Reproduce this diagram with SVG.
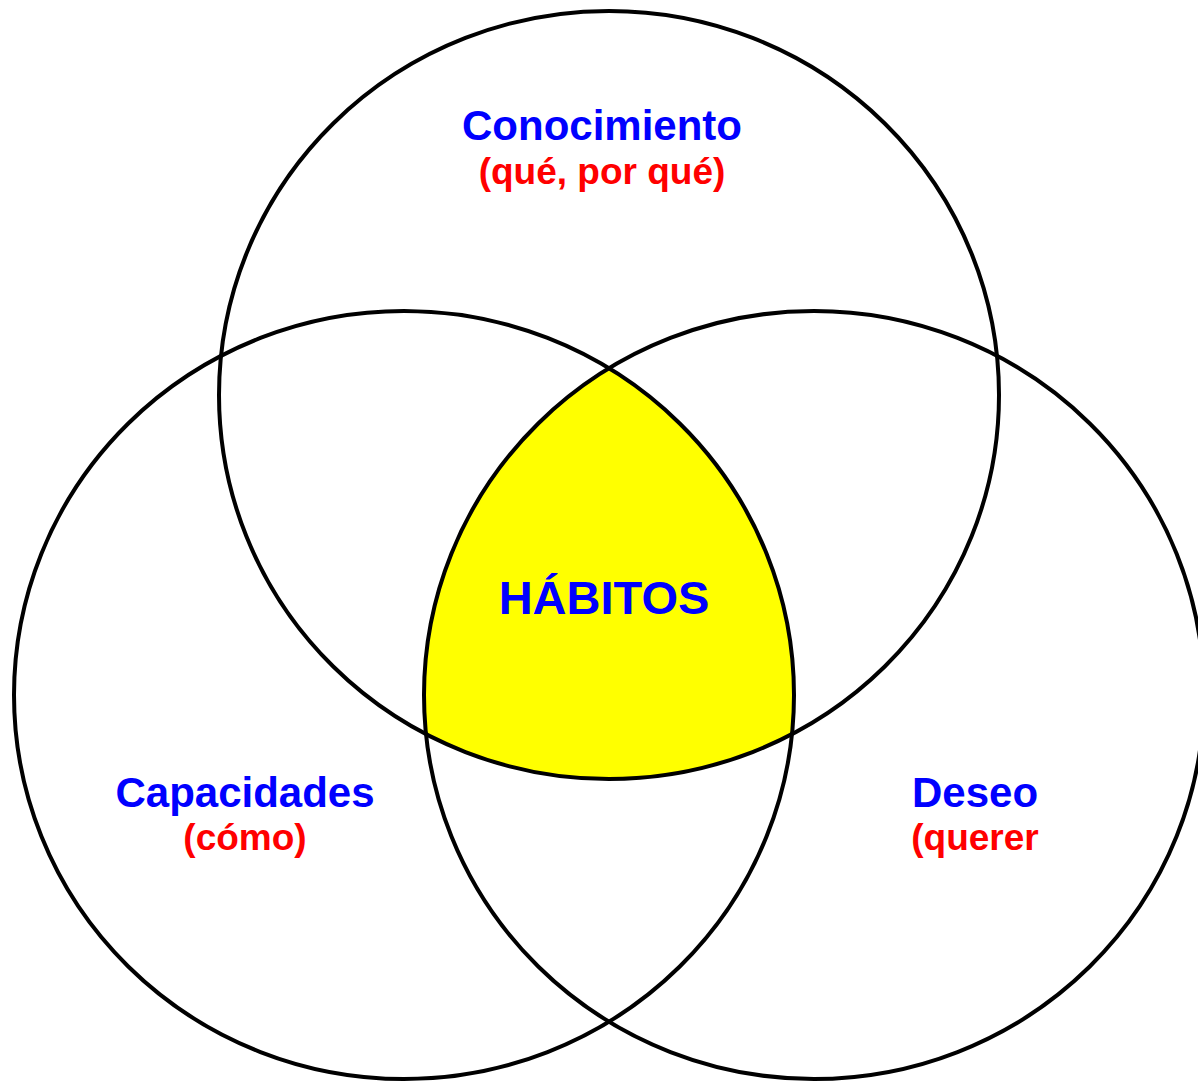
<svg xmlns="http://www.w3.org/2000/svg" width="1198" height="1082" viewBox="0 0 1198 1082">
<style>
.c{fill:none;stroke:#000;stroke-width:4}
.t{font-family:"Liberation Sans",Arial,sans-serif;font-weight:bold;text-anchor:middle}
.b{fill:#0000ff;font-size:42px}
.r{fill:#ff0000;font-size:37px}
</style>
<defs>
<clipPath id="cpTop"><ellipse cx="609" cy="395" rx="390" ry="384"/></clipPath>
<clipPath id="cpRight"><ellipse cx="814" cy="695" rx="390" ry="384"/></clipPath>
</defs>
<rect width="1198" height="1082" fill="#fff"/>
<g id="habitos-fill" clip-path="url(#cpTop)">
<g clip-path="url(#cpRight)">
<ellipse cx="404" cy="695" rx="390" ry="384" fill="#ffff00"/>
</g>
</g>
<g id="connectors"></g>
<g id="conocimiento">
<ellipse class="c" cx="609" cy="395" rx="390" ry="384"/>
<text class="t b" x="602" y="140">Conocimiento</text>
<text class="t r" x="602" y="184">(qué, por qué)</text>
</g>
<g id="capacidades">
<ellipse class="c" cx="404" cy="695" rx="390" ry="384"/>
<text class="t b" x="245" y="807">Capacidades</text>
<text class="t r" x="245" y="850">(cómo)</text>
</g>
<g id="deseo">
<ellipse class="c" cx="814" cy="695" rx="390" ry="384"/>
<text class="t b" x="975" y="807">Deseo</text>
<text class="t r" x="975" y="850">(querer</text>
</g>
<g id="habitos">
<text class="t" x="604" y="614" fill="#0000ff" font-size="47">HÁBITOS</text>
</g>
</svg>
